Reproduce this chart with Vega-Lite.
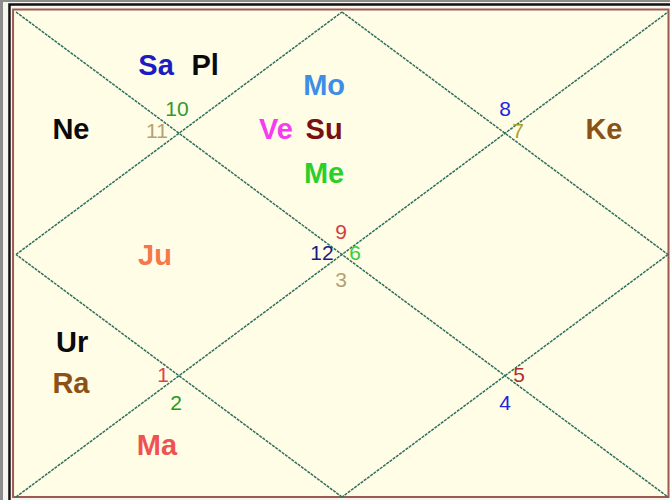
{
  "$schema": "https://vega.github.io/schema/vega-lite/v6.json",
  "width": 670,
  "height": 500,
  "autosize": "none",
  "padding": 0,
  "background": "#f6f6ee",
  "config": {"view": {"stroke": null, "fill": "#f6f6ee"}},
  "resolve": {"scale": {"color": "independent", "fill": "independent", "stroke": "independent", "strokeWidth": "independent"}},
  "datasets": {
    "frame": [
      {"kind": "gray", "x1": -0.089, "y1": -0.095, "x2": 4.3, "y2": 4.3},
      {"kind": "black", "x1": -0.04, "y1": -0.062, "x2": 4.3, "y2": 4.3},
      {"kind": "bg", "x1": -0.018, "y1": -0.021, "x2": 4.003, "y2": 4.0}
    ],
    "lines": [
      {"x1": 0, "y1": 0, "x2": 4, "y2": 4},
      {"x1": 0, "y1": 4, "x2": 4, "y2": 0},
      {"x1": 2, "y1": 0, "x2": 4, "y2": 2},
      {"x1": 4, "y1": 2, "x2": 2, "y2": 4},
      {"x1": 2, "y1": 4, "x2": 0, "y2": 2},
      {"x1": 0, "y1": 2, "x2": 2, "y2": 0}
    ],
    "planets": [
      {"p": "Sa", "x": 0.859, "y": 0.445},
      {"p": "Pl", "x": 1.16, "y": 0.445},
      {"p": "Ne", "x": 0.337, "y": 0.973},
      {"p": "Mo", "x": 1.89, "y": 0.61},
      {"p": "Ve", "x": 1.595, "y": 0.973},
      {"p": "Su", "x": 1.89, "y": 0.973},
      {"p": "Me", "x": 1.89, "y": 1.336},
      {"p": "Ke", "x": 3.607, "y": 0.973},
      {"p": "Ju", "x": 0.853, "y": 2.012},
      {"p": "Ur", "x": 0.344, "y": 2.73},
      {"p": "Ra", "x": 0.337, "y": 3.068},
      {"p": "Ma", "x": 0.865, "y": 3.579}
    ],
    "houses": [
      {"h": "10", "x": 0.988, "y": 0.808},
      {"h": "11", "x": 0.865, "y": 0.99},
      {"h": "8", "x": 3.0, "y": 0.808},
      {"h": "7", "x": 3.08, "y": 0.99},
      {"h": "9", "x": 1.994, "y": 1.823},
      {"h": "12", "x": 1.877, "y": 1.996},
      {"h": "6", "x": 2.08, "y": 1.996},
      {"h": "3", "x": 1.994, "y": 2.219},
      {"h": "1", "x": 0.902, "y": 3.002},
      {"h": "2", "x": 0.982, "y": 3.233},
      {"h": "5", "x": 3.086, "y": 3.002},
      {"h": "4", "x": 3.0, "y": 3.233}
    ]
  },
  "layer": [
    {
      "data": {"name": "frame"},
      "mark": {"type": "rect"},
      "encoding": {
        "x": {"field": "x1", "type": "quantitative", "scale": {"domain": [0, 4], "range": [16, 668], "zero": false, "nice": false}, "axis": null},
        "y": {"field": "y1", "type": "quantitative", "scale": {"domain": [0, 4], "range": [12, 497], "zero": false, "nice": false}, "axis": null},
        "x2": {"field": "x2"},
        "y2": {"field": "y2"},
        "stroke": {"field": "kind", "type": "nominal", "legend": null, "scale": {"domain": ["gray", "black", "bg"], "range": ["#8c8c8c", "#111111", "#9c5a52"]}},
        "strokeWidth": {"field": "kind", "type": "nominal", "legend": null, "scale": {"domain": ["gray", "black", "bg"], "range": [3, 2, 2]}},
        "fill": {"field": "kind", "type": "nominal", "legend": null, "scale": {"domain": ["gray", "black", "bg"], "range": ["#f6f6ee", "#f6f6ee", "#fffde6"]}},
        "order": {"field": "kind", "sort": "descending"}
      }
    },
    {
      "data": {"name": "lines"},
      "mark": {"type": "rule", "color": "#2f6f5f", "strokeWidth": 1.5, "strokeDash": [3, 1]},
      "encoding": {
        "x": {"field": "x1", "type": "quantitative"},
        "y": {"field": "y1", "type": "quantitative"},
        "x2": {"field": "x2"},
        "y2": {"field": "y2"}
      }
    },
    {
      "data": {"name": "planets"},
      "mark": {"type": "text", "font": "Liberation Sans", "fontWeight": "bold", "fontSize": 29, "baseline": "middle", "align": "center"},
      "encoding": {
        "x": {"field": "x", "type": "quantitative"},
        "y": {"field": "y", "type": "quantitative"},
        "text": {"field": "p"},
        "color": {"field": "p", "type": "nominal", "legend": null, "scale": {
          "domain": ["Sa", "Pl", "Ne", "Mo", "Ve", "Su", "Me", "Ke", "Ju", "Ur", "Ra", "Ma"],
          "range": ["#1c1cc4", "#0a0a0a", "#0a0a0a", "#3c8ee6", "#f53cf0", "#7a1010", "#2ad02a", "#8a5218", "#f4784a", "#0a0a0a", "#8a5218", "#ee5252"]}}
      }
    },
    {
      "data": {"name": "houses"},
      "mark": {"type": "text", "font": "Liberation Sans", "fontSize": 21, "baseline": "middle", "align": "center"},
      "encoding": {
        "x": {"field": "x", "type": "quantitative"},
        "y": {"field": "y", "type": "quantitative"},
        "text": {"field": "h"},
        "color": {"field": "h", "type": "nominal", "legend": null, "scale": {
          "domain": ["10", "11", "8", "7", "9", "12", "6", "3", "1", "2", "5", "4"],
          "range": ["#2f9a2f", "#b3a274", "#2424e6", "#a6a22e", "#d04040", "#1a1a88", "#3acc3a", "#b3a274", "#dc4646", "#229a22", "#b03030", "#2424dc"]}}
      }
    }
  ]
}
